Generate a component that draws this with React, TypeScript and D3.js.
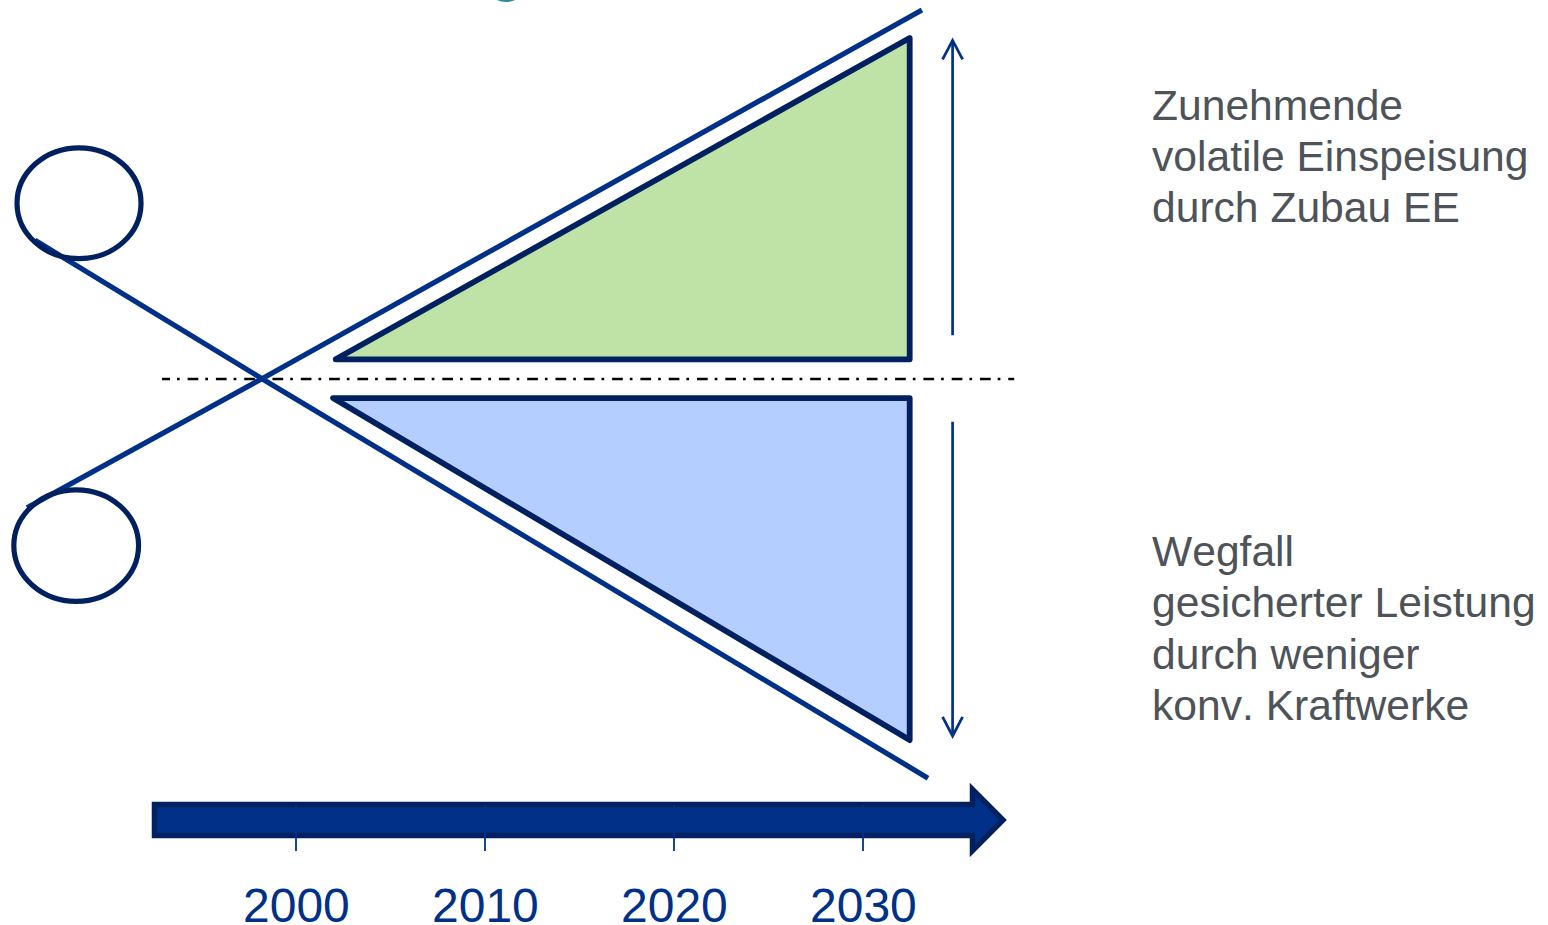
import React from "react";
import * as d3 from "d3";

type Pt = [number, number];

// Time axis
const tickYears = [2000, 2010, 2020, 2030];
const tickLabels = ["2000", "2010", "2020", "2030"];

// Wedges as [year, level]; level 0 is the dash-dot balance line
const surplusWedge: Pt[] = [[2002.1, 5.8], [2032.47, 100.3], [2032.47, 5.8]];
const deficitWedge: Pt[] = [[2001.96, -5.6], [2032.47, -106.2], [2032.47, -5.6]];

// Scissor blades: handle end, pivot, blade tip
const upperBlade: Pt[] = [[1985.77, -37.9], [1998.2, 0.1], [2033.12, 108.5]];
const lowerBlade: Pt[] = [[1986.19, 40.8], [1998.2, 0.1], [2033.44, -117.4]];

// Scissor grips: [year, level, half width in years, half height in level units]
const grips: [number, number, number, number][] = [
  [1988.52, 51.7, 3.28, 16.3],
  [1988.37, -49.0, 3.3, 16.4],
];

// Span arrows on the right
const spanYear = 2034.74;
const surplusSpan: Pt = [12.9, 99.6];
const deficitSpan: Pt = [-12.6, -105.0];

// Timeline arrow
const arrowStart = 1992.51;
const arrowNeck = 2035.79;
const arrowTip = 2037.41;
const arrowBand: Pt = [-125.15, -134.26];
const arrowHead: Pt = [-120.68, -138.74];
const arrowMid = -129.71;
const tickSpan: Pt = [-125.3, -138.8];

const balanceRange: Pt = [1992.91, 2038.0];

const surplusLines = ["Zunehmende", "volatile Einspeisung", "durch Zubau EE"];
const deficitLines = ["Wegfall", "gesicherter Leistung", "durch weniger", "konv. Kraftwerke"];

const BLADE = "#003087";
const DARK = "#002060";
const FONT = "'Liberation Sans', Arial, sans-serif";

const x = d3.scaleLinear().domain([2000, 2030]).range([296, 863]);
const y = d3.scaleLinear().domain([0, 100]).range([379, 39]);
const line = d3.line<Pt>().x((d) => x(d[0])).y((d) => y(d[1]));
const closed = d3.line<Pt>().x((d) => x(d[0])).y((d) => y(d[1])).curve(d3.curveLinearClosed);

const arrowPoints: Pt[] = [
  [arrowStart, arrowBand[0]],
  [arrowNeck, arrowBand[0]],
  [arrowNeck, arrowHead[0]],
  [arrowTip, arrowMid],
  [arrowNeck, arrowHead[1]],
  [arrowNeck, arrowBand[1]],
  [arrowStart, arrowBand[1]],
];

function SpanArrow({ from, to }: { from: number; to: number }) {
  const sign = to > from ? 1 : -1;
  const barb: Pt[] = [
    [spanYear - 0.53, to - sign * 5.6],
    [spanYear, to],
    [spanYear + 0.53, to - sign * 5.6],
  ];
  return (
    <g fill="none" stroke={BLADE} strokeWidth={2.7}>
      <path d={line([[spanYear, from], [spanYear, to]]) ?? ""} />
      <path d={line(barb) ?? ""} strokeLinejoin="miter" />
    </g>
  );
}

export default function App() {
  return (
    <svg
      width={1548}
      height={925}
      viewBox="0 0 1548 925"
      style={{ position: "absolute", left: 0, top: 0, display: "block", background: "#fff" }}
    >
      {/* descender of a heading cut off by the top edge */}
      <ellipse cx={506} cy={-5} rx={13} ry={7} fill="#2f87a3" />

      <path
        d={line(balanceRange.map((yr) => [yr, 0] as Pt)) ?? ""}
        stroke="#000"
        strokeWidth={2.4}
        strokeDasharray="10.7 7 2.7 7.9"
        strokeDashoffset={2.7}
        fill="none"
      />

      <path d={closed(surplusWedge) ?? ""} fill="#bfe3a6" stroke={DARK} strokeWidth={5.8} strokeLinejoin="round" />
      <path d={closed(deficitWedge) ?? ""} fill="#b3ceff" stroke={DARK} strokeWidth={5.8} strokeLinejoin="round" />

      {[upperBlade, lowerBlade].map((b, i) => (
        <path key={i} d={line(b) ?? ""} fill="none" stroke={BLADE} strokeWidth={5.2} />
      ))}

      {grips.map(([yr, lvl, hw, hh], i) => (
        <ellipse
          key={i}
          cx={x(yr)}
          cy={y(lvl)}
          rx={x(yr + hw) - x(yr)}
          ry={y(lvl) - y(lvl + hh)}
          fill="none"
          stroke={DARK}
          strokeWidth={5.2}
        />
      ))}

      <SpanArrow from={surplusSpan[0]} to={surplusSpan[1]} />
      <SpanArrow from={deficitSpan[0]} to={deficitSpan[1]} />

      <path d={closed(arrowPoints) ?? ""} fill={BLADE} stroke={DARK} strokeWidth={5.4} strokeLinejoin="miter" />

      {tickYears.map((yr, i) => (
        <g key={yr}>
          <line x1={x(yr)} x2={x(yr)} y1={y(tickSpan[0])} y2={y(tickSpan[1])} stroke={BLADE} strokeWidth={1.8} />
          <text
            x={x(yr) + 0.4}
            y={921.5}
            textAnchor="middle"
            fontFamily={FONT}
            fontSize={48}
            fill={BLADE}
          >
            {tickLabels[i]}
          </text>
        </g>
      ))}

      <g fontFamily={FONT} fontSize={42.6} fill="#4d5358" style={{ fontKerning: "none" }}>
        {surplusLines.map((t, i) => (
          <text key={t} x={1152} y={120 + i * 51.2}>{t}</text>
        ))}
        {deficitLines.map((t, i) => (
          <text key={t} x={1152} y={565.8 + i * 51.4}>{t}</text>
        ))}
      </g>
    </svg>
  );
}
